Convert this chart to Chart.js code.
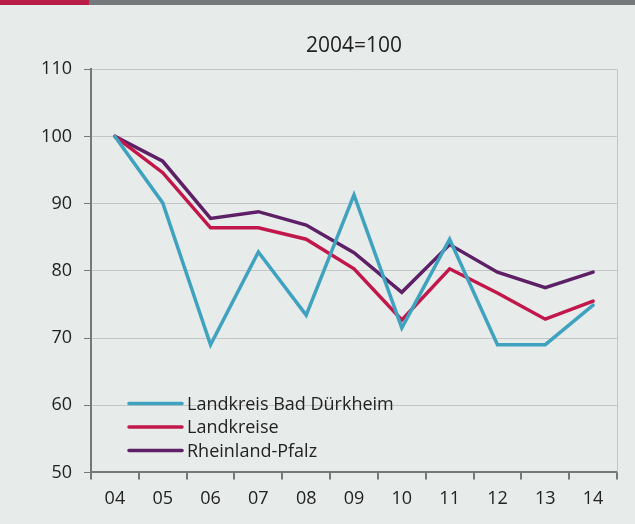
<!DOCTYPE html>
<html>
<head>
<meta charset="utf-8">
<script src="https://cdn.jsdelivr.net/npm/chart.js@4"></script>
<style>
  html, body { margin: 0; padding: 0; background: #e7ebea; }
  #bar { position: absolute; left: 0; top: 0; width: 635px; height: 5px; background: #74787a; }
  #bar div { width: 89px; height: 5px; background: #b91d47; }
  #wrap { position: absolute; left: 0; top: 0; width: 635px; height: 524px; }
</style>
</head>
<body>
<div id="bar"><div></div></div>
<div id="wrap"><canvas id="graph" width="635" height="524"></canvas></div>
<script>
const years = ["04", "05", "06", "07", "08", "09", "10", "11", "12", "13", "14"];
const badDuerkheim = [100, 90.1, 69, 82.8, 73.4, 91.3, 71.5, 84.7, 69, 69, 74.9];
const landkreise = [100, 94.6, 86.4, 86.4, 84.7, 80.3, 72.7, 80.3, 76.7, 72.8, 75.5];
const rheinlandPfalz = [100, 96.3, 87.8, 88.8, 86.8, 82.7, 76.8, 83.9, 79.8, 77.5, 79.8];

const FONT = "'Open Sans', 'Noto Sans', sans-serif";

// legend drawn inside the plot, bottom left
const innerLegend = {
  id: "innerLegend",
  afterDraw(chart) {
    const { ctx, chartArea } = chart;
    ctx.save();
    // right border of the plot
    ctx.strokeStyle = "#c3c6c6";
    ctx.lineWidth = 1;
    ctx.beginPath();
    ctx.moveTo(chartArea.right + 0.5, chartArea.top);
    ctx.lineTo(chartArea.right + 0.5, chartArea.bottom);
    ctx.stroke();

    ctx.font = "18px " + FONT;
    ctx.textBaseline = "middle";
    ctx.fillStyle = "#222";
    ctx.lineCap = "round";
    chart.data.datasets.forEach((ds, i) => {
      const y = chartArea.bottom - 69 + i * 23.5;
      const x = chartArea.left + 38;
      ctx.strokeStyle = ds.borderColor;
      ctx.lineWidth = 3.5;
      ctx.beginPath();
      ctx.moveTo(x, y);
      ctx.lineTo(x + 53, y);
      ctx.stroke();
      ctx.fillText(ds.label, x + 58, y + 1);
    });
    ctx.restore();
  }
};

new Chart(document.getElementById("graph"), {
  type: "line",
  data: {
    labels: years,
    datasets: [
      { label: "Landkreis Bad Dürkheim", data: badDuerkheim, borderColor: "#3fa2bf" },
      { label: "Landkreise", data: landkreise, borderColor: "#c1174b" },
      { label: "Rheinland-Pfalz", data: rheinlandPfalz, borderColor: "#5d2066" }
    ]
  },
  options: {
    responsive: false,
    animation: false,
    layout: { padding: { left: 0, right: 18, top: 33, bottom: 5 } },
    elements: {
      point: { radius: 0 },
      line: { borderWidth: 3.5, tension: 0, borderCapStyle: "round" }
    },
    plugins: {
      legend: { display: false },
      tooltip: { enabled: false },
      title: {
        display: true,
        fullSize: false,
        text: "2004=100",
        color: "#222",
        font: { family: FONT, size: 21, weight: "normal" },
        padding: { top: 0, bottom: 11 }
      }
    },
    scales: {
      x: {
        offset: true,
        grid: {
          display: true,
          offset: true,
          drawOnChartArea: false,
          tickLength: 7,
          tickColor: "#777",
          lineWidth: 2
        },
        border: { color: "#777", width: 2 },
        ticks: {
          color: "#222",
          font: { family: FONT, size: 18 },
          padding: 9,
          maxRotation: 0
        }
      },
      y: {
        min: 50,
        max: 110,
        afterFit(scale) { scale.width = 91; },
        grid: {
          color: "#c3c6c6",
          lineWidth: 1,
          tickLength: 7,
          tickColor: "#777"
        },
        border: { color: "#777", width: 2 },
        ticks: {
          stepSize: 10,
          color: "#222",
          font: { family: FONT, size: 18 },
          padding: 12
        }
      }
    }
  },
  plugins: [innerLegend]
});
</script>
</body>
</html>
